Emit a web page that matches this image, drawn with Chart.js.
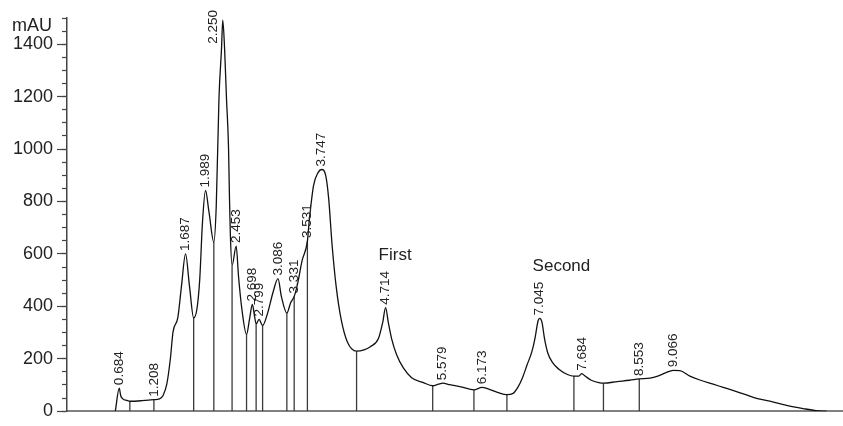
<!DOCTYPE html>
<html>
<head>
<meta charset="utf-8">
<script src="https://cdn.jsdelivr.net/npm/chart.js@4.4.1/dist/chart.umd.min.js"></script>
<style>
  html, body { margin: 0; padding: 0; background: #fff; }
  canvas { display: block; }
</style>
</head>
<body>
<canvas id="chrom" width="843" height="426"></canvas>
<script>
// Detector trace: retention time (min) and absorbance (mAU)
const curveTimes = [
  0.624, 0.684, 0.705, 0.738, 0.799, 0.844, 1.024, 1.208, 1.291, 1.347,
  1.403, 1.458, 1.497, 1.570, 1.625, 1.687, 1.747, 1.810, 1.858, 1.901,
  1.944, 1.989, 2.041, 2.115, 2.152, 2.193, 2.231, 2.250, 2.278, 2.306,
  2.337, 2.351, 2.365, 2.391, 2.453, 2.489, 2.540, 2.610, 2.655, 2.698,
  2.730, 2.755, 2.799, 2.853, 2.931, 3.008, 3.086, 3.137, 3.220, 3.276,
  3.331, 3.384, 3.451, 3.531, 3.558, 3.623, 3.692, 3.747, 3.809, 3.853,
  3.904, 3.966, 4.041, 4.136, 4.275, 4.388, 4.482, 4.606, 4.671, 4.714,
  4.755, 4.805, 4.881, 4.983, 5.108, 5.286, 5.427, 5.514, 5.579, 5.686,
  5.857, 6.051, 6.173, 6.266, 6.408, 6.550, 6.644, 6.715, 6.786, 6.857,
  6.928, 6.974, 7.022, 7.045, 7.081, 7.119, 7.170, 7.244, 7.341, 7.466,
  7.564, 7.637, 7.684, 7.733, 7.826, 7.941, 8.011, 8.220, 8.405, 8.553,
  8.716, 8.833, 8.950, 9.066, 9.167, 9.319, 9.470, 9.671, 9.823, 10.025,
  10.277, 10.529, 10.782, 11.033, 11.236, 11.387
];
const curveValues = [
  0, 88, 60, 47, 41, 38, 40, 44, 47, 60,
  103, 202, 302, 357, 476, 600, 476, 356, 388, 500,
  724, 842, 761, 645, 786, 1196, 1382, 1492, 1382, 1196,
  1009, 823, 674, 556, 630, 513, 388, 293, 351, 407,
  364, 333, 350, 327, 376, 451, 506, 438, 374, 413,
  438, 488, 575, 649, 724, 860, 910, 922, 898, 811,
  636, 476, 351, 264, 229, 234, 246, 277, 339, 395,
  339, 277, 215, 165, 128, 109, 97, 103, 107, 101,
  93, 81, 91, 85, 72, 63, 68, 91, 128, 178,
  227, 277, 345, 354, 339, 277, 221, 184, 159, 140,
  134, 134, 143, 134, 118, 109, 107, 113, 118, 123,
  126, 134, 146, 156, 155, 134, 119, 103, 91, 75,
  53, 38, 22, 10, 2, 0
];

// Peak boundaries (vertical drop lines) and labelled peak apexes
const dropTimes = [0.844, 1.208, 1.810, 2.115, 2.391, 2.610, 2.755, 2.853, 3.220,
                   3.331, 3.531, 4.275, 5.427, 6.051, 6.550, 7.564, 8.011, 8.553];
const peakTimes = [0.684, 1.208, 1.687, 1.989, 2.250, 2.453, 2.698, 2.799, 3.086,
                   3.331, 3.531, 3.747, 4.714, 5.579, 6.173, 7.045, 7.684, 8.553, 9.066];

// Fraction names written above their peaks
const noteTimes = [4.714, 7.045];
const noteTexts = ['First', 'Second'];

const unitText = 'mAU';
const FONT = '"Liberation Sans", Arial, Helvetica, sans-serif';

function valueAt(t) {
  let best = 0;
  for (let i = 1; i < curveTimes.length; i++) {
    if (Math.abs(curveTimes[i] - t) < Math.abs(curveTimes[best] - t)) best = i;
  }
  return curveValues[best];
}

const tracePoints = curveTimes.map((t, i) => ({ x: t, y: curveValues[i] }));
const dropPoints = [];
dropTimes.forEach(t => {
  dropPoints.push({ x: t, y: 0 }, { x: t, y: valueAt(t) }, { x: t, y: null });
});

// Rotated retention-time labels, fraction names and the unit caption
const peakLabels = {
  id: 'peakLabels',
  afterDatasetsDraw(chart) {
    const { ctx, scales: { x, y }, chartArea } = chart;
    ctx.save();
    ctx.fillStyle = '#222';
    ctx.font = '13.5px ' + FONT;
    ctx.textAlign = 'left';
    ctx.textBaseline = 'middle';
    const tops = {};
    peakTimes.forEach(t => {
      const text = t.toFixed(3);
      const px = x.getPixelForValue(t);
      const py = y.getPixelForValue(valueAt(t));
      const len = ctx.measureText(text).width;
      let cx = px, base = py - 3;
      if (base - len < 4) {          // no room above: set it beside the apex
        cx = px - 9;
        base = 10 + len;
      }
      ctx.save();
      ctx.translate(cx, base);
      ctx.rotate(-Math.PI / 2);
      ctx.fillText(text, 0, 0);
      ctx.restore();
      tops[t] = base - len;
    });

    ctx.font = '17px ' + FONT;
    ctx.textBaseline = 'alphabetic';
    noteTimes.forEach((t, i) => {
      ctx.fillText(noteTexts[i], x.getPixelForValue(t) - 7, tops[t] - 11);
    });

    ctx.font = '18px ' + FONT;
    ctx.textAlign = 'right';
    ctx.textBaseline = 'middle';
    ctx.fillText(unitText, chartArea.left - 15, chartArea.top + 8);
    ctx.restore();
  }
};

new Chart(document.getElementById('chrom'), {
  type: 'line',
  data: {
    datasets: [
      {
        data: tracePoints,
        borderColor: '#111',
        borderWidth: 1.3,
        pointRadius: 0,
        cubicInterpolationMode: 'monotone',
        fill: false
      },
      {
        data: dropPoints,
        borderColor: '#3a3a3a',
        borderWidth: 1.3,
        pointRadius: 0,
        tension: 0,
        spanGaps: false,
        fill: false
      }
    ]
  },
  options: {
    responsive: false,
    animation: false,
    devicePixelRatio: 1,
    layout: { padding: { top: 18, left: 0, right: 0, bottom: 0 } },
    plugins: { legend: { display: false }, tooltip: { enabled: false } },
    scales: {
      x: {
        type: 'linear',
        min: -0.107,
        max: 11.636,
        ticks: { display: false },
        grid: { display: true, drawOnChartArea: false, drawTicks: false },
        border: { display: true, color: '#808080', width: 2 },
        afterFit(s) { s.height = 5; }
      },
      y: {
        type: 'linear',
        position: 'left',
        weight: 1,
        min: 0,
        max: 1500,
        ticks: {
          stepSize: 200,
          includeBounds: false,
          maxTicksLimit: 100,
          color: '#222',
          padding: 4,
          font: { family: FONT, size: 18 },
          callback: v => String(v)
        },
        grid: { drawOnChartArea: false, drawTicks: true, tickLength: 10, color: '#444', tickWidth: 1.2 },
        border: { display: true, color: '#444', width: 1.5 },
        afterFit(s) { s.width = 67; }
      },
      yMinor: {
        type: 'linear',
        position: 'left',
        weight: 0,
        min: 0,
        max: 1500,
        ticks: { display: false, stepSize: 50, maxTicksLimit: 100 },
        grid: { drawOnChartArea: false, drawTicks: true, tickLength: 5, color: '#444', tickWidth: 1.2 },
        border: { display: false },
        afterFit(s) { s.width = 0; }
      }
    }
  },
  plugins: [peakLabels]
});
</script>
</body>
</html>
